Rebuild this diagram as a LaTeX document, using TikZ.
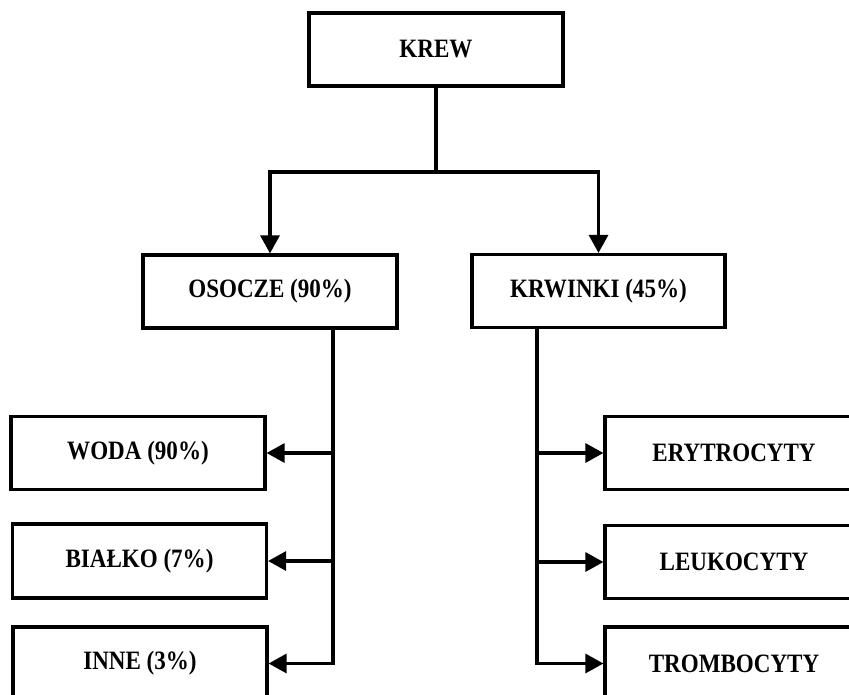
\documentclass[tikz,border=0pt]{standalone}
\usepackage{fontspec}
\setmainfont{Liberation Serif}[FakeStretch=0.87]
\usetikzlibrary{arrows.meta}
\usetikzlibrary{calc}

\begin{document}
\begin{tikzpicture}[x=1pt, y=-1pt,
        box/.style = {draw=black, line width=3.2pt, minimum width=254pt, minimum height=73pt,
                      font=\fontsize{26.5}{30}\selectfont\bfseries, inner sep=0pt},
        arr/.style = {black, line width=3.2pt, -{Triangle[length=18pt, width=19pt]}},
        bus/.style = {black, line width=3.2pt}]
            \clip (0,0) rectangle (849,694);
            \fill[white] (0,0) rectangle (849,694);
            % top level
            \node[box] (krew) at (436,49.5) {KREW};
            \node[box] (osocze) at (270,291.5) {OSOCZE (90\%)};
            \node[box, minimum width=253pt] (krwinki) at (598.5,291) {KRWINKI (45\%)};
            % left column
            \node[box] (woda) at (138,453) {WODA (90\%)};
            \node[box, minimum height=74pt] (bialko) at (139.5,561) {BIAŁKO (7\%)};
            \node[box] (inne) at (140,663.5) {INNE (3\%)};
            % right column
            \node[box, minimum width=258pt] (erytro) at (734,453) {ERYTROCYTY};
            \node[box, minimum width=258pt] (leuko) at (734,562) {LEUKOCYTY};
            \node[box, minimum width=258pt] (trombo) at (734,663.5) {TROMBOCYTY};
            % connectors
            \coordinate (split) at (436,172);
            \coordinate (lbus) at (333,0);
            \coordinate (rbus) at (537,0);
            \draw[bus] (krew.south) -- (split);
            \draw[arr] (split) -| (osocze.north);
            \draw[arr] (split) -| (krwinki.north);
            \draw[arr] (osocze.south -| lbus) |- (inne.east);
            \draw[arr] (krwinki.south -| rbus) |- (trombo.west);
            \draw[arr] (woda.east -| lbus) -- (woda.east);
            \draw[arr] (bialko.east -| lbus) -- (bialko.east);
            \draw[arr] (erytro.west -| rbus) -- (erytro.west);
            \draw[arr] (leuko.west -| rbus) -- (leuko.west);
        \end{tikzpicture}
\end{document}
